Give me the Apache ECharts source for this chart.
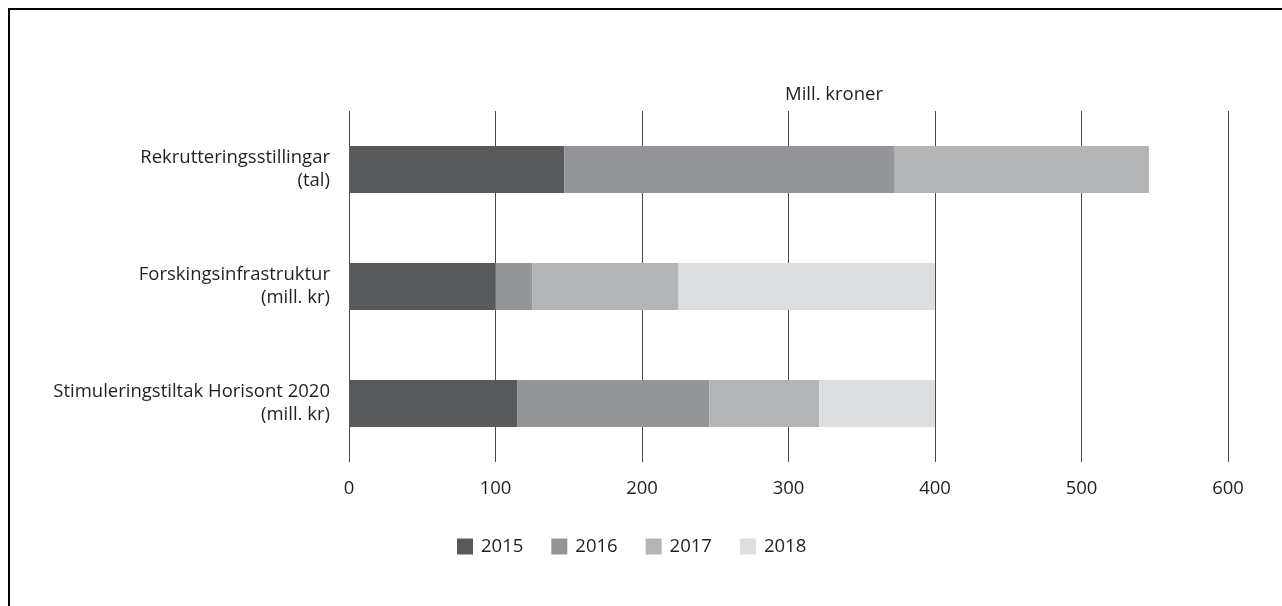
<!DOCTYPE html>
<html><head><meta charset="utf-8">
<script src="https://cdn.jsdelivr.net/npm/echarts@6/dist/echarts.min.js"></script>
<style>html,body{margin:0;padding:0;background:#fff}#c{width:1282px;height:606px}</style>
</head><body><div id="c"></div>
<script>
const categories = ['Rekrutteringsstillingar\n(tal)', 'Forskingsinfrastruktur\n(mill. kr)', 'Stimuleringstiltak Horisont 2020\n(mill. kr)'];
const years = ['2015', '2016', '2017', '2018'];
const v2015 = [147, 100, 115];
const v2016 = [225, 25, 131];
const v2017 = [174, 100, 75];
const v2018 = [0, 175, 79];
const xTicks = [0, 100, 200, 300, 400, 500, 600];
const colors = ['#58595b', '#939598', '#b3b4b6', '#dcddde'];
const values = [v2015, v2016, v2017, v2018];
const font = '"Open Sans", "Noto Sans", sans-serif';
const fs = 18.5;
const chart = echarts.init(document.getElementById('c'), null, {renderer: 'canvas'});
chart.setOption({
  animation: false,
  textStyle: {fontFamily: font},
  grid: {left: 349, right: 54, top: 111, bottom: 144, containLabel: false},
  xAxis: {
    type: 'value', min: xTicks[0], max: xTicks[xTicks.length - 1], interval: 100,
    axisLine: {show: false}, axisTick: {show: false},
    splitLine: {show: true, lineStyle: {color: '#4a4a4a', width: 1}},
    axisLabel: {color: '#231f20', fontSize: fs, margin: 17, fontFamily: font}
  },
  yAxis: {
    type: 'category', data: categories, inverse: true,
    axisLine: {show: false}, axisTick: {show: false},
    axisLabel: {color: '#231f20', fontSize: fs, lineHeight: 23, margin: 19, align: 'right', fontFamily: font}
  },
  legend: {
    left: 452, top: 532, itemWidth: 16, itemHeight: 16, itemGap: 28,
    icon: 'rect', textStyle: {color: '#231f20', fontSize: fs, fontFamily: font, padding: [0, 0, 0, 3]},
    data: years
  },
  graphic: [
    {type: 'rect', shape: {x: 9, y: 9, width: 1300, height: 700}, style: {fill: 'none', stroke: '#000', lineWidth: 2}, silent: true},
    {type: 'text', left: 785, top: 85, style: {text: 'Mill. kroner', fill: '#231f20', font: fs + 'px ' + font}}
  ],
  series: years.map((y, i) => ({
    name: y, type: 'bar', stack: 'total', barWidth: '40%',
    itemStyle: {color: colors[i]},
    data: values[i]
  }))
});
</script></body></html>
